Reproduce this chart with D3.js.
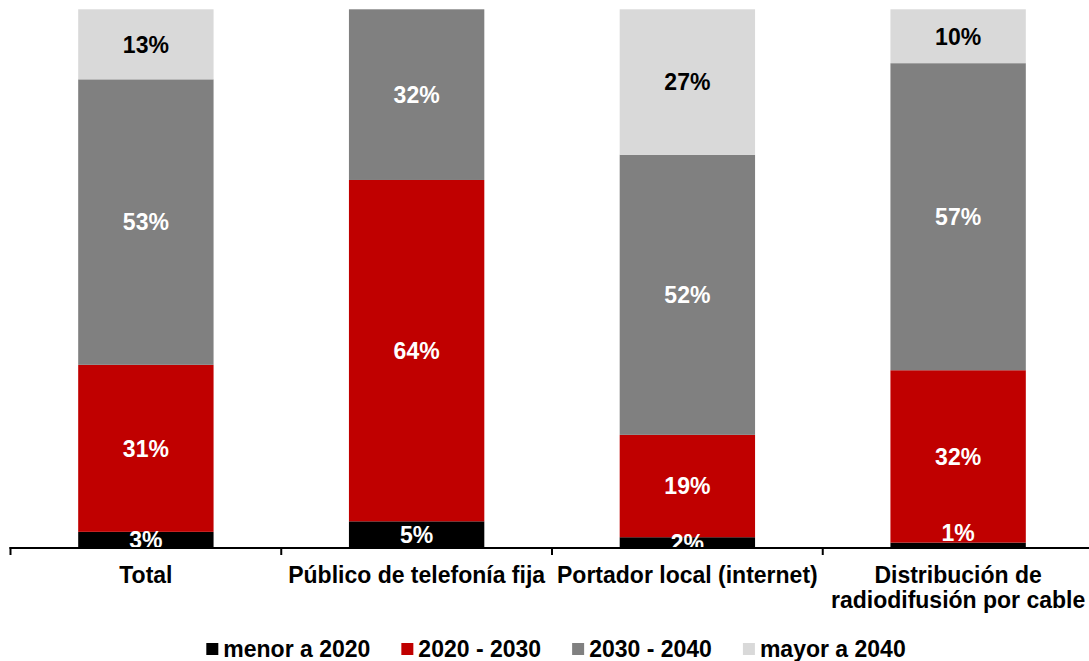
<!DOCTYPE html>
<html>
<head>
<meta charset="utf-8">
<script src="https://cdn.jsdelivr.net/npm/d3@7"></script>
<style>
  html, body { margin: 0; padding: 0; background: #ffffff; }
  svg { display: block; font-family: "Liberation Sans", Arial, Helvetica, sans-serif; font-weight: bold; }
</style>
</head>
<body>
<svg id="chart" width="1089" height="661"></svg>
<script>
// Categories (multi-line labels split on "\n")
const categories = [
  "Total",
  "Público de telefonía fija",
  "Portador local (internet)",
  "Distribución de\nradiodifusión por cable"
];

// Series names (legend order = stack order, bottom to top)
const seriesNames = ["menor a 2020", "2020 - 2030", "2030 - 2040", "mayor a 2040"];

// Percent values per series, one entry per category
const menor2020 = [3, 5, 2, 1];
const s2020_2030 = [31, 64, 19, 32];
const s2030_2040 = [53, 32, 52, 57];
const mayor2040 = [13, 0, 27, 10];

const seriesColors = ["#000000", "#C00000", "#808080", "#D9D9D9"];
const labelColors = ["#ffffff", "#ffffff", "#ffffff", "#000000"];

const width = 1089, height = 661;
const plot = { left: 10.5, right: 1093.5, top: 9.3, bottom: 548 };
const fontSize = 23;

const svg = d3.select("#chart");

// Table built from the series arrays
const seriesValues = [menor2020, s2020_2030, s2030_2040, mayor2040];
const rows = categories.map((c, i) => {
  const r = { category: c };
  seriesNames.forEach((s, j) => { r[s] = seriesValues[j][i]; });
  return r;
});

// 100% stacked layout
const stack = d3.stack().keys(seriesNames).offset(d3.stackOffsetExpand);
const stacked = stack(rows);

const x = d3.scaleBand().domain(categories).range([plot.left, plot.right]).paddingInner(0).paddingOuter(0);
const y = d3.scaleLinear().domain([0, 1]).range([plot.bottom, plot.top]);

const barW = x.bandwidth() * 0.5;
const barOff = (x.bandwidth() - barW) / 2;

// Clip labels to the plotting area
svg.append("defs").append("clipPath").attr("id", "plotClip")
  .append("rect")
  .attr("x", 0).attr("y", 0)
  .attr("width", width).attr("height", plot.bottom - 1);

const layers = svg.append("g").attr("class", "bars")
  .selectAll("g")
  .data(stacked)
  .join("g")
  .attr("fill", (d, i) => seriesColors[i]);

layers.selectAll("rect")
  .data(d => d.filter(p => p[1] - p[0] > 0))
  .join("rect")
  .attr("x", p => x(p.data.category) + barOff)
  .attr("y", p => y(p[1]))
  .attr("width", barW)
  .attr("height", p => y(p[0]) - y(p[1]));

// Segment value labels
const labelG = svg.append("g").attr("class", "labels").attr("clip-path", "url(#plotClip)");
stacked.forEach((layer, i) => {
  labelG.selectAll(null)
    .data(layer.filter(p => p[1] - p[0] > 0))
    .join("text")
    .attr("x", p => x(p.data.category) + x.bandwidth() / 2)
    .attr("y", p => {
      const top = y(p[1]), bot = y(p[0]);
      // very thin segments get their label lifted above the segment
      const cy = (bot - top) < 8 ? top - 10 : (top + bot) / 2;
      return cy + fontSize * 0.36;
    })
    .attr("text-anchor", "middle")
    .attr("font-size", fontSize)
    .attr("fill", labelColors[i])
    .text(p => p.data[layer.key] + "%");
});

// Category axis: baseline plus ticks at band boundaries
const axisG = svg.append("g").attr("class", "x-axis");
axisG.append("line")
  .attr("x1", plot.left - 1).attr("x2", width)
  .attr("y1", plot.bottom).attr("y2", plot.bottom)
  .attr("stroke", "#000").attr("stroke-width", 2);

const boundaries = categories.map(c => x(c)).concat([x.range()[1]]);
axisG.selectAll("line.tick")
  .data(boundaries)
  .join("line")
  .attr("class", "tick")
  .attr("x1", d => d).attr("x2", d => d)
  .attr("y1", plot.bottom - 1).attr("y2", plot.bottom + 7)
  .attr("stroke", "#000").attr("stroke-width", 2);

const catLabels = axisG.selectAll("text.cat")
  .data(categories)
  .join("text")
  .attr("class", "cat")
  .attr("text-anchor", "middle")
  .attr("font-size", fontSize)
  .attr("fill", "#000");

catLabels.each(function(c) {
  const lines = c.split("\n");
  d3.select(this).selectAll("tspan")
    .data(lines)
    .join("tspan")
    .attr("x", x(c) + x.bandwidth() / 2)
    .attr("y", (l, k) => 583 + k * 25)
    .text(l => l);
});

// Legend, centred under the plot
const legend = svg.append("g").attr("class", "legend");
const sw = 12, swGap = 5, itemGap = 31;
const items = legend.selectAll("g")
  .data(seriesNames)
  .join("g");
items.append("rect")
  .attr("width", sw).attr("height", sw)
  .attr("y", 643)
  .attr("fill", (d, i) => seriesColors[i]);
items.append("text")
  .attr("x", sw + swGap)
  .attr("y", 657)
  .attr("font-size", fontSize)
  .attr("fill", "#000")
  .text(d => d);

let widths = [];
items.select("text").each(function() { widths.push(this.getComputedTextLength()); });
const total = d3.sum(widths) + seriesNames.length * (sw + swGap) + (seriesNames.length - 1) * itemGap;
let cursor = 556 - total / 2;
items.each(function(d, i) {
  d3.select(this).attr("transform", `translate(${cursor},0)`);
  cursor += sw + swGap + widths[i] + itemGap;
});
</script>
</body>
</html>
